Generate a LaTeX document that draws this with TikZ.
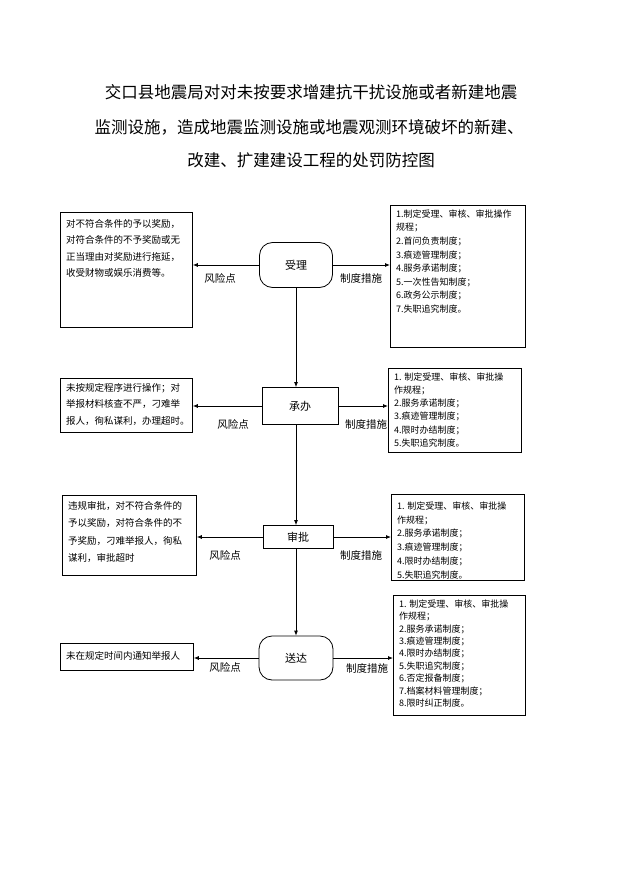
\documentclass[tikz,border=0pt]{standalone}
\usepackage{fontspec}
\setmainfont{Noto Sans CJK SC}
\usetikzlibrary{arrows.meta}
\begin{document}
\begin{tikzpicture}[x=1pt,y=-1pt,
  box/.style={draw, line width=0.8pt, anchor=north west, inner sep=0pt},
  ltxt/.style={anchor=north west, inner sep=0pt, align=left, font=\fontsize{9.5}{16.5}\selectfont},
  rtxt/.style={anchor=north west, inner sep=0pt, align=left, font=\fontsize{9}{13.6}\selectfont},
  lab/.style={font=\fontsize{10.5}{12}\selectfont, inner sep=0pt},
  proc/.style={draw, line width=0.8pt, inner sep=0pt, font=\fontsize{11}{13}\selectfont},
  arr/.style={-{Latex[length=5pt,width=4pt]}, line width=0.8pt},
  ttl/.style={font=\fontsize{16.5}{20}\selectfont, inner sep=0pt}]
\useasboundingbox (0,0) rectangle (621,878);
\fill[white] (0,0) rectangle (621,878);
% title
\node[ttl] (t1) at (311,92) {交口县地震局对对未按要求增建抗干扰设施或者新建地震};
\node[ttl] (t2) at (309,127) {监测设施，造成地震监测设施或地震观测环境破坏的新建、};
\node[ttl] (t3) at (311,160) {改建、扩建建设工程的处罚防控图};
% process nodes
\node[proc, rounded corners=13pt, minimum width=73pt, minimum height=45pt] (shouli) at (296,265) {受理};
\node[proc, minimum width=76pt, minimum height=37pt] (chengban) at (300,406) {承办};
\node[proc, minimum width=70pt, minimum height=23pt] (shenpi) at (298,537) {审批};
\node[proc, rounded corners=13pt, minimum width=74pt, minimum height=44pt] (songda) at (296,658) {送达};
% boxes
\node[box, minimum width=132pt, minimum height=115pt] (l1) at (60,212) {};
\node[box, minimum width=135pt, minimum height=142pt] (r1) at (390,205) {};
\node[box, minimum width=132pt, minimum height=54pt] (l2) at (60,378) {};
\node[box, minimum width=133pt, minimum height=84pt] (r2) at (388,368) {};
\node[box, minimum width=134pt, minimum height=80pt] (l3) at (62,495) {};
\node[box, minimum width=133pt, minimum height=86pt] (r3) at (391,494) {};
\node[box, minimum width=133pt, minimum height=27pt] (l4) at (60,643) {};
\node[box, minimum width=132pt, minimum height=120pt] (r4) at (393,595) {};
% box texts
\node[ltxt] (l1t) at (66,219) {对不符合条件的予以奖励，\\对符合条件的不予奖励或无\\正当理由对奖励进行拖延，\\收受财物或娱乐消费等。};
\node[rtxt] (r1t) at (396,209.5) {1.制定受理、审核、审批操作\\规程；\\2.首问负责制度；\\3.痕迹管理制度；\\4.服务承诺制度；\\5.一次性告知制度；\\6.政务公示制度；\\7.失职追究制度。};
\node[ltxt] (l2t) at (66,383) {未按规定程序进行操作；对\\举报材料核查不严，刁难举\\报人，徇私谋利，办理超时。};
\node[rtxt, font=\fontsize{9}{13.2}\selectfont] (r2t) at (394,372.5) {1. 制定受理、审核、审批操\\作规程；\\2.服务承诺制度；\\3.痕迹管理制度；\\4.限时办结制度；\\5.失职追究制度。};
\node[ltxt, font=\fontsize{9.5}{17.5}\selectfont] (l3t) at (68,501) {违规审批，对不符合条件的\\予以奖励，对符合条件的不\\予奖励，刁难举报人，徇私\\谋利，审批超时};
\node[rtxt, font=\fontsize{9}{13.8}\selectfont] (r3t) at (397,501.5) {1. 制定受理、审核、审批操\\作规程；\\2.服务承诺制度；\\3.痕迹管理制度；\\4.限时办结制度；\\5.失职追究制度。};
\node[ltxt] (l4t) at (66,651.5) {未在规定时间内通知举报人};
\node[rtxt, font=\fontsize{9}{12.4}\selectfont] (r4t) at (399,599.5) {1. 制定受理、审核、审批操\\作规程；\\2.服务承诺制度；\\3.痕迹管理制度；\\4.限时办结制度；\\5.失职追究制度；\\6.否定报备制度；\\7.档案材料管理制度；\\8.限时纠正制度。};
% arrows
\draw[arr] (shouli.west) -- (shouli.west -| l1.east);
\draw[arr] (shouli.east) -- (shouli.east -| r1.west);
\draw[arr] (shouli.south) -- (shouli.south |- chengban.north);
\draw[arr] (chengban.west) -- (chengban.west -| l2.east);
\draw[arr] (chengban.east) -- (chengban.east -| r2.west);
\draw[arr] (shouli.south |- chengban.south) -- (shouli.south |- shenpi.north);
\draw[arr] (shenpi.west) -- (shenpi.west -| l3.east);
\draw[arr] (shenpi.east) -- (shenpi.east -| r3.west);
\draw[arr] (shouli.south |- shenpi.south) -- (shouli.south |- songda.north);
\draw[arr] (songda.west) -- (songda.west -| l4.east);
\draw[arr] (songda.east) -- (songda.east -| r4.west);
% labels
\node[lab] (f1) at (220,278) {风险点};
\node[lab] (z1) at (361,278) {制度措施};
\node[lab] (f2) at (233,424) {风险点};
\node[lab] (z2) at (366,424) {制度措施};
\node[lab] (f3) at (225,555) {风险点};
\node[lab] (z3) at (361,555) {制度措施};
\node[lab] (f4) at (225,667) {风险点};
\node[lab] (z4) at (367,668) {制度措施};
\end{tikzpicture}
\end{document}
